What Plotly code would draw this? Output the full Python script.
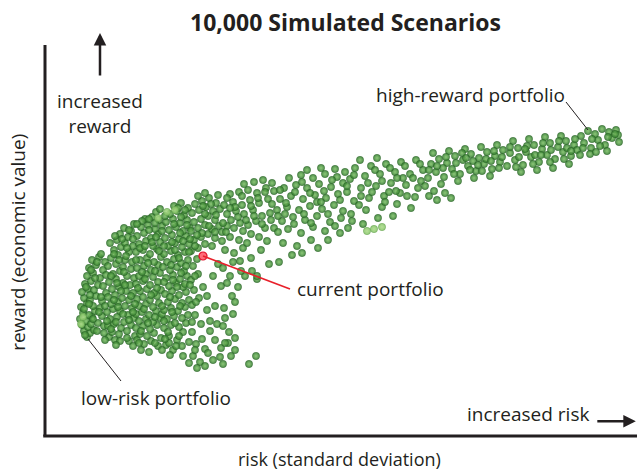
import plotly.graph_objects as go

# risk / reward readings (arbitrary units: risk 0-592, reward 0-391)
core_a = [(42,99),(39,105),(45,103),(37,111),(43,109),(49,106),(35,117),(41,115),(47,119),(53,113),(38,123),(44,121),(50,125),(36,129),(42,133),(48,130),(55,128),(39,138),(45,136),(51,140),(37,144),(43,147),(57,135),(49,146),(40,152),(46,155),(53,151),(42,160),(48,163),(55,158),(44,168),(51,171),(58,166),(47,176),(54,179),(60,174),(57,120),(59,110),(61,143),(52,105)]
core_b = [(64,99),(70,96),(67,104),(74,102),(63,110),(69,112),(76,108),(82,105),(65,117),(72,119),(79,114),(86,111),(62,124),(68,127),(75,125),(83,121),(89,118),(66,132),(73,134),(80,130),(87,128),(63,139),(70,141),(77,138),(84,136),(67,147),(74,149),(81,145),(88,143),(64,154),(71,157),(78,153),(85,151),(68,162),(75,165),(82,160),(89,158),(63,170),(71,172),(78,169),(86,167),(66,178),(73,181),(80,176),(87,174),(69,186),(76,189),(84,184),(65,193),(72,196),(80,193),(88,190),(75,202),(83,199),(79,208),(86,205),(89,212),(84,95),(90,100)]
core_c = [(92,96),(99,92),(106,95),(113,90),(95,102),(102,100),(109,103),(116,98),(91,108),(98,110),(105,107),(112,111),(94,115),(101,117),(108,114),(115,118),(91,122),(97,124),(104,121),(111,125),(117,122),(94,130),(101,132),(108,129),(114,133),(92,137),(98,139),(105,136),(112,140),(95,145),(102,147),(109,143),(116,146),(91,152),(98,155),(105,151),(113,154),(94,160),(101,162),(108,159),(115,163),(92,168),(99,170),(106,166),(113,171),(95,176),(102,178),(109,174),(116,179),(91,184),(98,186),(105,182),(112,187),(94,192),(101,195),(108,190),(115,194),(92,200),(99,203),(106,198),(113,202),(96,209),(103,211),(110,207),(117,210),(100,217),(107,219),(114,216),(111,224)]
core_d = [(121,91),(128,86),(124,100),(132,96),(138,104),(119,108),(126,111),(134,109),(141,113),(122,117),(129,120),(137,118),(119,126),(126,128),(133,125),(140,129),(123,134),(130,137),(137,133),(144,136),(120,142),(127,145),(134,141),(141,144),(124,150),(131,153),(138,149),(121,158),(128,161),(135,157),(142,160),(125,166),(132,169),(139,165),(122,174),(129,177),(136,173),(143,176),(119,182),(126,185),(133,181),(140,184),(123,190),(130,193),(137,189),(144,192),(120,198),(127,201),(134,197),(141,200),(124,206),(131,209),(138,205),(145,208),(121,214),(128,217),(135,213),(142,216),(125,222),(132,225),(139,221),(129,230),(136,233),(143,228)]
core_e = [(148,80),(155,74),(151,92),(160,87),(147,104),(156,112),(150,121),(162,126),(147,131),(154,138),(149,146),(158,149),(146,156),(153,162),(148,170),(152,177),(146,185),(153,188),(160,192),(167,190),(149,196),(156,199),(163,202),(170,198),(146,205),(153,208),(160,211),(167,207),(174,210),(149,214),(156,217),(163,220),(170,216),(147,223),(154,226),(161,229),(168,225),(150,232),(157,235),(164,238),(171,233),(160,243),(153,240)]
core_fill = [(40,101),(46,112),(39,127),(45,141),(41,149),(50,158),(46,166),(52,174),(56,182),(44,132),(48,117),(54,124),(58,150),(56,139),(61,161),(60,130),(62,115),(59,103),
             (66,107),(71,114),(78,122),(73,129),(69,136),(76,145),(80,151),(72,153),(66,160),(79,164),(74,176),(69,182),(82,188),(77,197),(70,200),(84,206),(88,197),(81,180),(86,140),(88,124),(84,116),(90,132),(93,148),(91,176),(95,188),(97,215),(104,206),(92,212),
             (96,105),(103,113),(110,119),(99,127),(106,141),(112,148),(100,157),(110,165),(97,164),(103,173),(114,185),(107,194),(100,190),(111,199),(117,205),(104,217),(110,213),(115,227),(119,115),(117,130),(119,154),(118,169),(119,190),(120,220),
             (123,104),(130,113),(127,124),(135,130),(125,139),(132,149),(140,152),(128,156),(136,163),(126,171),(134,178),(141,170),(130,186),(138,195),(127,194),(135,203),(142,211),(129,212),(136,219),(140,226),(133,228),(145,197),(144,184),(143,121),(145,151),(124,93),(137,90),(147,114),(151,134),(150,160),
             (150,190),(157,203),(164,210),(171,221),(158,230),(166,232),(173,241),(160,222),(152,201),(170,204),(175,227),(177,204),(182,210)]
bottom_pts = [(60,96),(75,95),(88,90),(96,86),(104,84),(110,93),(117,86),(125,81),(131,90),(138,80),(144,94),(150,86),(157,97),(163,83),(170,96),(176,88),(165,105),(172,112),(144,73),(152,68),(160,70),(168,76),(175,79),(134,100),(120,97),(94,93),(82,98),(71,91),(183,93),(178,110),(190,98),
              (162,140),(170,130),(176,150),(185,160),(190,134),(168,160),(180,118),(173,172),(195,175),(188,122),(165,115),(200,160),(207,165),(212,157)]
mid_a = [(178,72),(186,80),(180,93),(190,86),(184,104),(179,128),(187,140),(182,153),(193,149),(178,168),(188,174),(196,165),(180,186),(189,183),(198,188),(177,195),(185,199),(194,196),(202,193),(181,204),(189,208),(198,205),(206,202),(214,199),(178,213),(186,216),(195,213),(203,211),(211,215),(220,208),(182,222),(191,225),(199,222),(208,226),(217,220),(225,223),(179,231),(188,234),(197,231),(205,236),(214,233),(223,237),(185,242),(194,244),(203,246),(212,243),(221,248),(229,245),(199,252),(209,254),(218,256),(227,253),(206,178),(216,186),(224,172),(212,160),(222,195),(229,208),(204,72),(211,80)]
mid_b = [(234,174),(247,181),(238,193),(252,190),(266,196),(233,204),(243,207),(256,203),(268,209),(280,205),(237,215),(248,219),(260,216),(272,220),(285,214),(296,218),(232,226),(242,229),(254,226),(265,230),(277,227),(289,231),(235,237),(246,240),(258,237),(270,241),(281,238),(293,242),(239,248),(251,251),(262,248),(274,252),(286,249),(298,253),(244,258),(256,261),(268,258),(280,262),(292,259),(262,266),(276,268),(290,267),(283,196),(295,203),(273,188),(257,183)]
mid_c = [(303,208),(318,212),(333,218),(348,220),(306,222),(321,226),(337,229),(352,232),(366,228),(309,235),(324,238),(339,240),(355,243),(370,239),(302,244),(316,248),(331,250),(346,253),(361,251),(376,255),(305,257),(320,260),(335,262),(350,264),(365,262),(378,266),(310,268),(326,270),(341,272),(356,274),(371,276),(300,264),(315,276),(332,278),(344,244),(358,258),(384,240),(392,236),(400,243),(406,238),(389,245)]
mid_fill = [(182,238),(190,229),(197,240),(206,230),(213,238),(220,244),(227,232),(235,246),(241,233),(250,244),(257,254),(265,243),(272,234),(279,245),(287,256),(295,236),(302,250),(309,261),(316,240),(323,253),(330,266),(337,255),(345,268),(352,258),(360,270),(368,258),(375,272),(185,228),(193,219),(201,216),(209,220),(217,212),(226,216),(233,220),(240,222),(249,212),(259,222),(266,213),(276,234),(283,222),(290,210),(298,225),(307,215),(314,231),(327,244),(340,234),(351,245),(362,240),(373,248)]
right_a = [(383,258),(391,264),(399,259),(407,267),(415,262),(423,270),(431,265),(439,272),(447,267),(455,274),(386,272),(394,277),(402,273),(410,280),(418,276),(426,282),(434,278),(442,284),(450,280),(458,286),(388,283),(404,285),(420,287),(436,289),(452,291),(380,250),(396,252),(413,255),(429,258),(445,260),(398,268),(428,275)]
right_b = [(462,270),(470,276),(478,271),(486,279),(494,274),(502,281),(510,277),(518,284),(526,280),(465,283),(473,288),(481,284),(489,291),(497,287),(505,293),(513,289),(521,295),(529,291),(468,295),(484,297),(500,299),(516,300),(476,264),(492,266),(508,268),(524,272)]
right_c = [(532,286),(539,293),(546,288),(553,296),(560,291),(567,298),(574,294),(536,300),(543,305),(550,302),(557,307),(564,304),(571,306),(573,301),(545,282),(562,285)]
right_fill = [(384,266),(392,270),(401,279),(409,262),(417,283),(425,266),(433,271),(441,277),(449,285),(457,279),(465,289),(474,279),(482,290),(490,281),(498,293),(506,286),(514,295),(522,288),(530,297),(538,288),(547,297),(555,290),(563,299),(570,302),(411,273),(437,265),(454,268),(471,269),(488,272),(505,274),(519,277),(535,281),(551,284),(421,278),(446,275),(480,287),(496,281),(526,285)]
light_pts = [(36,112),(38,119),(122,224),(130,226),(113,218),(322,205),(329,207),(337,209)]
current_portfolio = (158, 180)

all_pts = (core_a + core_b + core_c + core_d + core_e + core_fill + bottom_pts
           + mid_a + mid_b + mid_c + mid_fill + right_a + right_b + right_c + right_fill)
risk = [p[0] for p in all_pts]
reward = [p[1] for p in all_pts]

FONT = "Open Sans"
TXT = "#231f20"

fig = go.Figure()
fig.add_trace(go.Scatter(
    x=risk, y=reward, mode="markers", hoverinfo="skip",
    marker=dict(size=7.3, color="rgba(48,122,44,0.85)",
                gradient=dict(type="radial", color="rgba(120,190,95,0.85)"),
                line=dict(width=0.6, color="rgba(40,95,35,0.7)"))))
fig.add_trace(go.Scatter(
    x=[p[0] for p in light_pts], y=[p[1] for p in light_pts], mode="markers", hoverinfo="skip",
    marker=dict(size=7.3, color="rgba(130,195,100,0.85)",
                gradient=dict(type="radial", color="rgba(175,220,140,0.9)"),
                line=dict(width=0.6, color="rgba(90,150,70,0.7)"))))

shapes = [
    dict(type="line", xref="paper", yref="paper", x0=0, x1=0, y0=0, y1=1,
         line=dict(color=TXT, width=3)),
    dict(type="line", xref="paper", yref="paper", x0=-0.003, x1=1, y0=0, y1=0,
         line=dict(color=TXT, width=3)),
    dict(type="line", xref="x", yref="y", x0=521, y0=334, x1=543, y1=306,
         line=dict(color=TXT, width=1)),
    dict(type="line", xref="x", yref="y", x0=43, y0=97, x1=76, y1=55,
         line=dict(color=TXT, width=1)),
    dict(type="line", xref="x", yref="y", x0=current_portfolio[0], y0=current_portfolio[1], x1=245, y1=147,
         line=dict(color="#e8202a", width=1.6)),
]

fig.add_trace(go.Scatter(
    x=[current_portfolio[0]], y=[current_portfolio[1]], mode="markers", hoverinfo="skip",
    marker=dict(size=8, color="#ff6a78", line=dict(width=1.2, color="#e0102a"))))

f = dict(family=FONT, size=19, color=TXT)
C = dict(xanchor="center", yanchor="middle", showarrow=False)
ann = [
    dict(text="<b>10,000 Simulated Scenarios</b>", xref="paper", yref="paper", x=0.507, y=1.059,
         font=dict(family=FONT, size=23, color=TXT), **C),
    dict(text="increased<br>reward", xref="x", yref="y", x=55, y=323, font=f, **C),
    dict(text="high-reward portfolio", xref="x", yref="y", x=425, y=341, font=f, **C),
    dict(text="current portfolio", xref="x", yref="y", x=250, y=147, xanchor="left", yanchor="middle",
         showarrow=False, font=f),
    dict(text="low-risk portfolio", xref="x", yref="y", x=34, y=38, xanchor="left", yanchor="middle",
         showarrow=False, font=f),
    dict(text="increased risk", xref="x", yref="y", x=546, y=22, xanchor="right", yanchor="middle",
         showarrow=False, font=f),
    dict(text="risk (standard deviation)", xref="paper", yref="paper", x=0.498, y=-0.060,
         font=dict(family=FONT, size=18, color=TXT), **C),
    dict(text="reward (economic value)", xref="paper", yref="paper", x=-0.046, y=0.496,
         textangle=-90, font=f, **C),
    dict(text="", xref="paper", yref="paper", x=0.0929, y=1.031, ax=0, ay=44,
         showarrow=True, arrowhead=2, arrowsize=1, arrowwidth=2.5, arrowcolor=TXT),
    dict(text="", xref="paper", yref="paper", x=0.998, y=0.038, ax=-40, ay=0,
         showarrow=True, arrowhead=2, arrowsize=1, arrowwidth=2.5, arrowcolor=TXT),
]

fig.update_layout(
    width=637, height=473, showlegend=False,
    margin=dict(l=45, r=0, t=45, b=37),
    paper_bgcolor="white", plot_bgcolor="white",
    xaxis=dict(range=[0, 592], visible=False),
    yaxis=dict(range=[0, 391], visible=False),
    shapes=shapes, annotations=ann,
)
fig.write_html("out.html", config={"displayModeBar": False},
               post_script="document.body.style.margin='0px';")
